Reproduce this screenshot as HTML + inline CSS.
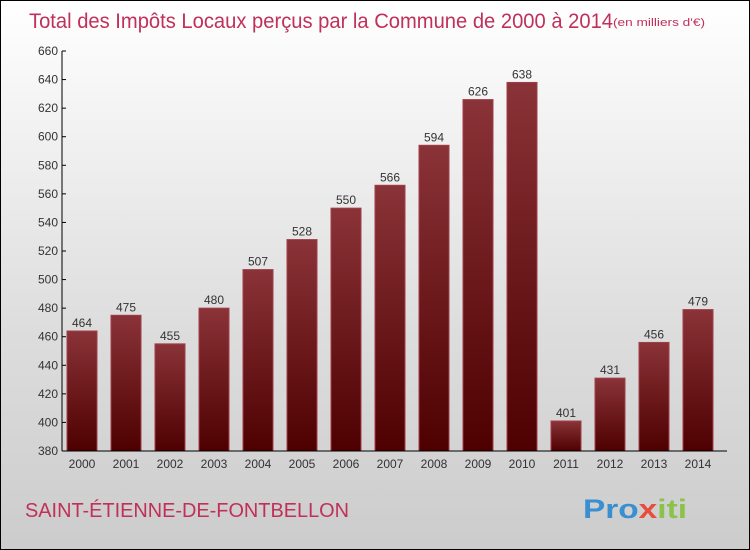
<!DOCTYPE html>
<html><head><meta charset="utf-8"><style>
body{margin:0}
#c{position:relative;width:748px;height:548px;border:1px solid #000;background:linear-gradient(#fff,#ddd 60%,#ccc);font-family:"Liberation Sans",sans-serif;overflow:hidden}
</style></head><body>
<div id="c">
<svg width="748" height="548" id="s">
<defs><linearGradient id="g" x1="0" y1="0" x2="0" y2="1"><stop offset="0" stop-color="#8a3338"/><stop offset="1" stop-color="#4e0000"/></linearGradient></defs>
<text x="28" y="27" font-size="21" fill="#c0305a" textLength="584" lengthAdjust="spacingAndGlyphs">Total des Impôts Locaux perçus par la Commune de 2000 à 2014</text>
<text x="612" y="25" font-size="11" fill="#c0305a" textLength="92" lengthAdjust="spacingAndGlyphs">(en milliers d'€)</text>
<text x="24" y="516" font-size="20" fill="#c0305a" textLength="324" lengthAdjust="spacingAndGlyphs">SAINT-ÉTIENNE-DE-FONTBELLON</text>
<text x="582" y="517" font-size="27" font-weight="bold" fill="#f39c12" textLength="104" lengthAdjust="spacingAndGlyphs"><tspan fill="#3a8fd0">Pro</tspan><tspan fill="#e74c3c">x</tspan><tspan fill="#8bc34a">iti</tspan></text>
<g id="plot"></g>
</svg></div>
<script>
const years=["2000","2001","2002","2003","2004","2005","2006","2007","2008","2009","2010","2011","2012","2013","2014"];
const values=[464,475,455,480,507,528,550,566,594,626,638,401,431,456,479];
const ticks=[380,400,420,440,460,480,500,520,540,560,580,600,620,640,660];
const NS="http://www.w3.org/2000/svg",p=document.getElementById('plot');
const y=v=>450-(v-380)*400/280, x=i=>81+i*44;
function mk(t,a,txt){const e=document.createElementNS(NS,t);for(const k in a)e.setAttribute(k,a[k]);if(txt!=null)e.textContent=txt;p.appendChild(e);return e;}
values.forEach((v,i)=>{
 const r=mk('rect',{x:x(i)-15,y:y(v),width:30,height:450-y(v),fill:'url(#g)',stroke:'#a04048','stroke-width':1});
 
 
 const l=mk('text',{x:x(i),y:y(v)-4,'text-anchor':'middle','font-size':12,fill:'#333'},v);
 
 
 const t=mk('text',{x:x(i),y:467,'text-anchor':'middle','font-size':12,fill:'#333'},years[i]);
 
 
});
ticks.forEach(v=>{
 const t=mk('text',{x:57,y:y(v)+4,'text-anchor':'end','font-size':12,fill:'#333'},v);
 
 
 mk('line',{x1:61,x2:65,y1:y(v),y2:y(v),stroke:'#000'});
});
const ya=mk('line',{x1:61,x2:61,y1:50,y2:450,stroke:'#000'});


const xa=mk('line',{x1:61,x2:726,y1:450,y2:450,stroke:'#000'});


</script>
</body></html>
